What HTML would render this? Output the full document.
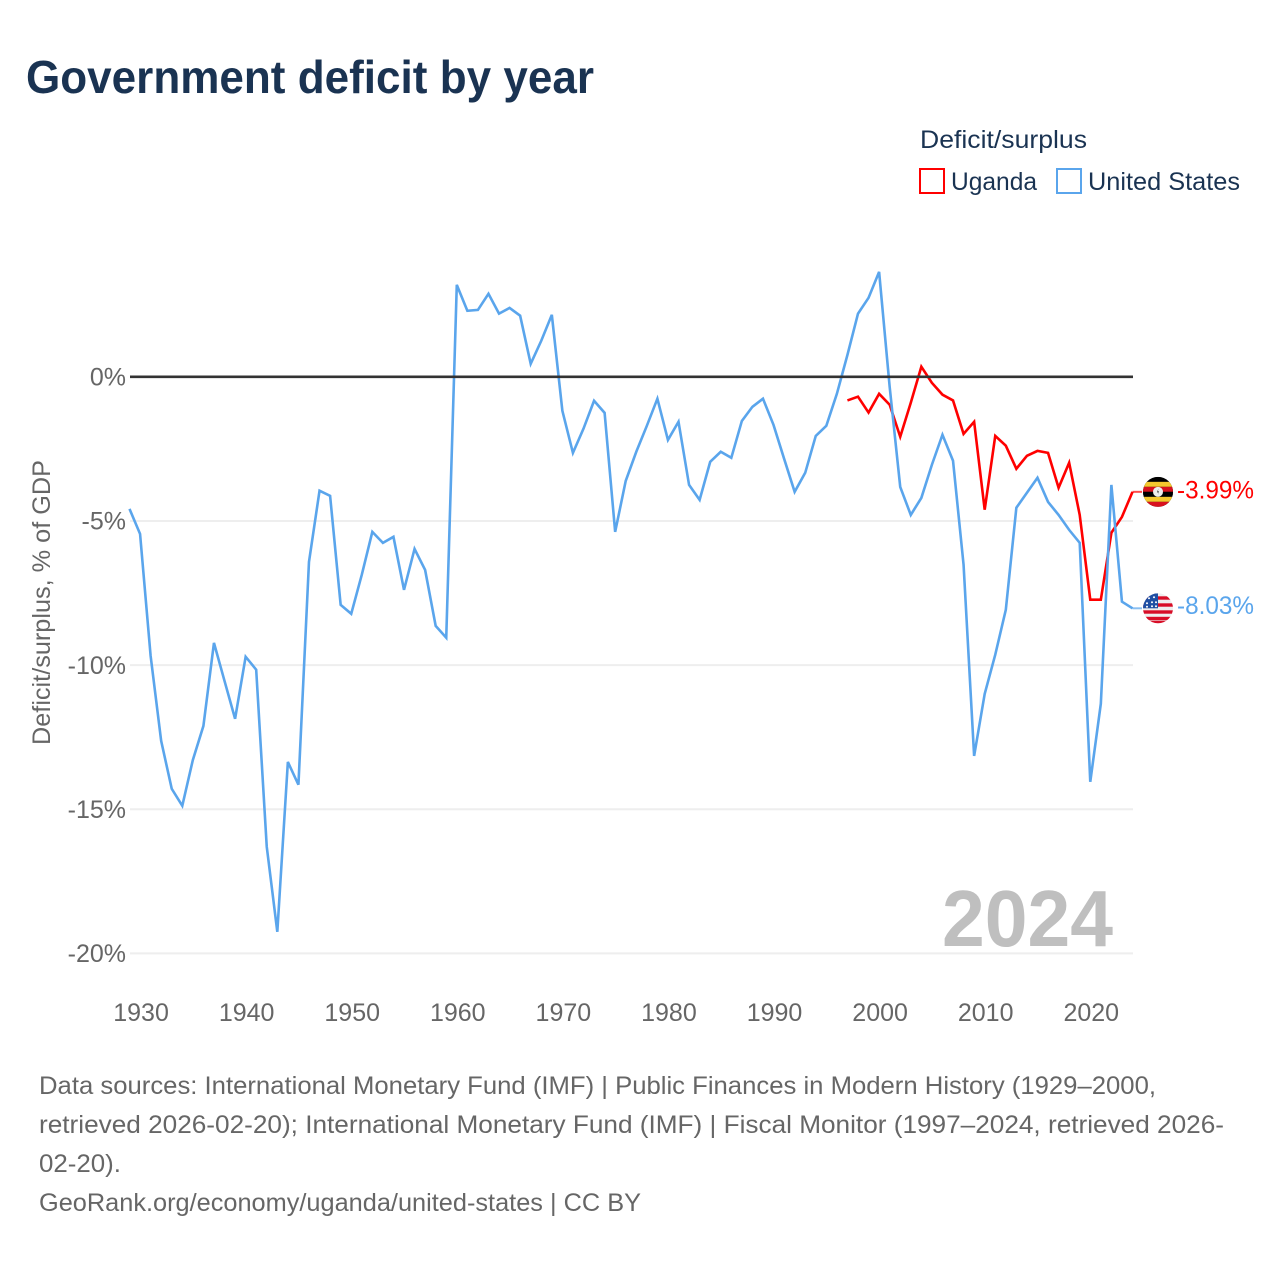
<!DOCTYPE html>
<html lang="en">
<head>
<meta charset="utf-8">
<title>Government deficit by year</title>
<style>
html,body{margin:0;padding:0;background:#fff;}
svg{display:block;font-family:"Liberation Sans",sans-serif;}
</style>
</head>
<body>
<svg id="chart" xmlns="http://www.w3.org/2000/svg" width="1280" height="1280" viewBox="0 0 1280 1280">
  <defs>
    <clipPath id="flag-clip-ug"><circle cx="0" cy="0" r="15"/></clipPath>
    <clipPath id="flag-clip-us"><circle cx="0" cy="0" r="15"/></clipPath>
  </defs>
  <rect width="1280" height="1280" fill="#fff"/>
  <text x="26" y="93" font-size="46" font-weight="700" fill="#1a3352" textLength="568" lengthAdjust="spacingAndGlyphs">Government deficit by year</text>

  <g>
    <text x="920" y="148" font-size="25" fill="#1a3352" textLength="167" lengthAdjust="spacingAndGlyphs">Deficit/surplus</text>
    <rect x="920" y="169" width="24" height="24" fill="#fff" stroke="#ff0000" stroke-width="2"/>
    <text x="951" y="190" font-size="25" fill="#1a3352" textLength="86" lengthAdjust="spacingAndGlyphs">Uganda</text>
    <rect x="1057" y="169" width="24" height="24" fill="#fff" stroke="#5aa5ec" stroke-width="2"/>
    <text x="1088" y="190" font-size="25" fill="#1a3352" textLength="152" lengthAdjust="spacingAndGlyphs">United States</text>
  </g>

  <text transform="translate(50,745) rotate(-90)" x="0" y="0" font-size="25" fill="#666" textLength="285" lengthAdjust="spacingAndGlyphs">Deficit/surplus, % of GDP</text>

  <g id="grid"></g>
  <g id="yticks"></g>
  <g id="xticks"></g>

  <text x="1113" y="946" text-anchor="end" font-size="80" font-weight="700" fill="#bfbfbf" textLength="171" lengthAdjust="spacingAndGlyphs">2024</text>

  <g id="series"></g>
  <g id="zero"></g>

  <g id="flag-ug">
    <g clip-path="url(#flag-clip-ug)">
      <rect x="-15" y="-15" width="30" height="30" fill="#000"/>
      <rect x="-15" y="-10" width="30" height="5" fill="#f5c82e"/>
      <rect x="-15" y="-5" width="30" height="5" fill="#d8121f"/>
      <rect x="-15" y="0" width="30" height="5" fill="#000"/>
      <rect x="-15" y="5" width="30" height="5" fill="#f5c82e"/>
      <rect x="-15" y="10" width="30" height="5" fill="#d8121f"/>
      <circle cx="0" cy="0" r="5" fill="#eee"/>
      <path d="M0.5 -3.5 L-1 0.5 L0.5 0.5 L-0.2 3.5 L1 -0.5 L-0.2 -0.5 Z" fill="#222"/>
    </g>
  </g>
  <g id="flag-us">
    <g clip-path="url(#flag-clip-us)">
      <rect x="-15" y="-15" width="30" height="30" fill="#eeeeee"/>
      <rect x="-15" y="-12" width="30" height="3.4" fill="#d80d27"/>
      <rect x="-15" y="-5" width="30" height="3.4" fill="#d80d27"/>
      <rect x="-15" y="2" width="30" height="3.4" fill="#d80d27"/>
      <rect x="-15" y="8.5" width="30" height="3.4" fill="#d80d27"/>
      <rect x="-15" y="12.5" width="30" height="3" fill="#d80d27"/>
      <rect x="-15" y="-15" width="15" height="15" fill="#1f4fa3"/>
      <g fill="#fff">
        <circle cx="-9" cy="-10" r="1"/><circle cx="-4" cy="-11" r="1"/>
        <circle cx="-11" cy="-5" r="1"/><circle cx="-6" cy="-6" r="1"/><circle cx="-2" cy="-6" r="1"/>
        <circle cx="-11" cy="-1.5" r="1"/><circle cx="-6" cy="-2" r="1"/><circle cx="-2" cy="-2" r="1"/>
      </g>
    </g>
  </g>

  <text id="label-ug" x="1177" font-size="25" fill="#ff0000" textLength="77" lengthAdjust="spacingAndGlyphs"></text>
  <text id="label-us" x="1177" font-size="25" fill="#5aa5ec" textLength="77" lengthAdjust="spacingAndGlyphs"></text>

  <g font-size="25" fill="#666">
    <text x="39" y="1094" textLength="1117" lengthAdjust="spacingAndGlyphs">Data sources: International Monetary Fund (IMF) | Public Finances in Modern History (1929–2000,</text>
    <text x="39" y="1133" textLength="1185" lengthAdjust="spacingAndGlyphs">retrieved 2026-02-20); International Monetary Fund (IMF) | Fiscal Monitor (1997–2024, retrieved 2026-</text>
    <text x="39" y="1172" textLength="82" lengthAdjust="spacingAndGlyphs">02-20).</text>
    <text x="39" y="1211" textLength="602" lengthAdjust="spacingAndGlyphs">GeoRank.org/economy/uganda/united-states | CC BY</text>
  </g>
</svg>
<script>
var usStartYear = 1929;
var usValues = [-4.58,-5.45,-9.68,-12.63,-14.29,-14.88,-13.29,-12.11,-9.23,-10.55,-11.86,-9.71,-10.16,-16.30,-19.25,-13.36,-14.15,-6.42,-3.95,-4.13,-7.91,-8.22,-6.87,-5.38,-5.76,-5.55,-7.39,-5.97,-6.70,-8.64,-9.05,3.19,2.29,2.32,2.88,2.19,2.39,2.12,0.45,1.25,2.15,-1.18,-2.64,-1.80,-0.83,-1.25,-5.38,-3.61,-2.60,-1.70,-0.76,-2.19,-1.56,-3.75,-4.27,-2.95,-2.60,-2.81,-1.53,-1.04,-0.76,-1.67,-2.84,-3.99,-3.33,-2.05,-1.70,-0.59,0.76,2.19,2.74,3.64,-0.35,-3.82,-4.79,-4.20,-3.05,-2.01,-2.91,-6.52,-13.15,-11.00,-9.64,-8.08,-4.54,-4.02,-3.50,-4.34,-4.79,-5.31,-5.76,-14.05,-11.34,-3.75,-7.80,-8.03];
var ugStartYear = 1997;
var ugValues = [-0.82,-0.69,-1.24,-0.59,-0.97,-2.08,-0.90,0.35,-0.21,-0.62,-0.82,-1.98,-1.56,-4.61,-2.05,-2.39,-3.19,-2.74,-2.57,-2.64,-3.85,-2.98,-4.79,-7.73,-7.73,-5.41,-4.86,-3.99];
var yTicks = [0,-5,-10,-15,-20];
var xTicks = [1930,1940,1950,1960,1970,1980,1990,2000,2010,2020];

var SVGNS = 'http://www.w3.org/2000/svg';
var plotLeft = 130, plotRight = 1133, zeroY = 376.8, pxPerPct = 28.83, xMin = 1929, xMax = 2024;
function xScale(year){ return plotLeft + (year - xMin) * (plotRight - plotLeft) / (xMax - xMin); }
function yScale(v){ return zeroY - v * pxPerPct; }
function make(tag, parentId){
  var el = document.createElementNS(SVGNS, tag);
  document.getElementById(parentId).appendChild(el);
  return el;
}

yTicks.forEach(function(t){
  var line = make('line', t === 0 ? 'zero' : 'grid');
  
  
  line.setAttribute('x1', plotLeft);
  line.setAttribute('x2', plotRight);
  line.setAttribute('y1', yScale(t));
  line.setAttribute('y2', yScale(t));
  line.setAttribute('stroke', t === 0 ? '#333333' : '#eeeeee');
  line.setAttribute('stroke-width', t === 0 ? 2.6 : 2);
  var label = make('text', 'yticks');
  
  
  label.setAttribute('x', 126);
  label.setAttribute('y', yScale(t) + 8.7);
  label.setAttribute('text-anchor', 'end');
  label.setAttribute('font-size', 25);
  label.setAttribute('fill', '#666');
  label.textContent = t + '%';
});

xTicks.forEach(function(t){
  var label = make('text', 'xticks');
  
  
  label.setAttribute('x', xScale(t) + 0.5);
  label.setAttribute('y', 1021);
  label.setAttribute('text-anchor', 'middle');
  label.setAttribute('font-size', 25);
  label.setAttribute('fill', '#666');
  label.textContent = t;
});

function pathFor(values, startYear){
  return values.map(function(v, i){
    return (i ? 'L' : 'M') + (xScale(startYear + i) - 0.5).toFixed(2) + ' ' + yScale(v).toFixed(2);
  }).join(' ');
}

var connUs = make('line', 'series');


var connUg = make('line', 'series');


[[connUs, usValues, '#5aa5ec'], [connUg, ugValues, '#ff0000']].forEach(function(c){
  var endY = yScale(c[1][c[1].length - 1]);
  c[0].setAttribute('x1', plotRight - 0.5);
  c[0].setAttribute('x2', 1142);
  c[0].setAttribute('y1', endY);
  c[0].setAttribute('y2', endY);
  c[0].setAttribute('stroke', c[2]);
  c[0].setAttribute('stroke-width', 2);
  c[0].setAttribute('opacity', 0.7);
});

var ugLine = make('path', 'series');


ugLine.setAttribute('d', pathFor(ugValues, ugStartYear));
ugLine.setAttribute('fill', 'none');
ugLine.setAttribute('stroke', '#ff0000');
ugLine.setAttribute('stroke-width', 2.6);
ugLine.setAttribute('stroke-linejoin', 'miter');

var usLine = make('path', 'series');


usLine.setAttribute('d', pathFor(usValues, usStartYear));
usLine.setAttribute('fill', 'none');
usLine.setAttribute('stroke', '#5aa5ec');
usLine.setAttribute('stroke-width', 2.6);
usLine.setAttribute('stroke-linejoin', 'miter');

var ugEnd = ugValues[ugValues.length - 1];
var usEnd = usValues[usValues.length - 1];
document.getElementById('flag-ug').setAttribute('transform', 'translate(1158,' + yScale(ugEnd) + ')');
document.getElementById('flag-us').setAttribute('transform', 'translate(1158,' + yScale(usEnd) + ')');
var labelUg = document.getElementById('label-ug');
labelUg.setAttribute('y', yScale(ugEnd) + 6.5);
labelUg.textContent = ugEnd.toFixed(2) + '%';
var labelUs = document.getElementById('label-us');
labelUs.setAttribute('y', yScale(usEnd) + 5.5);
labelUs.textContent = usEnd.toFixed(2) + '%';
</script>
</body>
</html>
